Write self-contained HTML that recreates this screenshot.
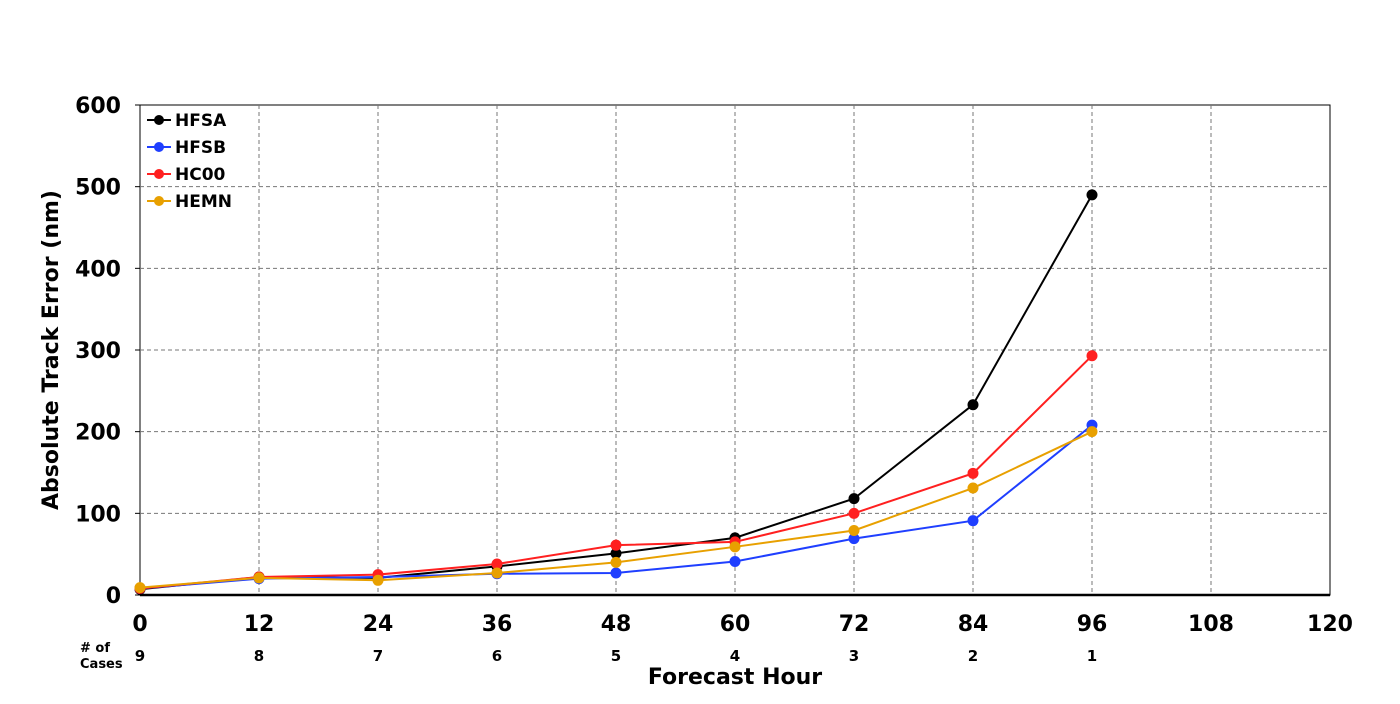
<!DOCTYPE html>
<html><head><meta charset="utf-8"><style>
body{margin:0;background:#fff;font-family:"DejaVu Sans","Liberation Sans",sans-serif;}
svg text{font-family:"DejaVu Sans","Liberation Sans",sans-serif;font-weight:bold;}
</style></head><body>
<svg id="chart" width="1400" height="700">
<g id="grid"></g><g id="series"></g><g id="axes"></g><g id="legend"></g>
</svg>
<script>
const hours=[0,12,24,36,48,60,72,84,96];
const xTicks=[0,12,24,36,48,60,72,84,96,108,120];
const yTicks=[0,100,200,300,400,500,600];
const cases=[9,8,7,6,5,4,3,2,1];
const names=["HFSA","HFSB","HC00","HEMN"];
const colors=["#000000","#1f3fff","#ff2020","#e8a000"];
const hfsa=[7,22,21,35,51,70,118,233,490];
const hfsb=[8,20,22,26,27,41,69,91,208];
const hc00=[8,22,25,38,61,65,100,149,293];
const hemn=[9,21,18,27,40,59,79,131,200];
const seriesVals=[hfsa,hfsb,hc00,hemn];
const X0=140,X1=1330,Y0=595,Y1=105;
const sx=h=>X0+(h/120)*(X1-X0);
const sy=v=>Y0-(v/600)*(Y0-Y1);
const NS="http://www.w3.org/2000/svg";
function mk(t,a,p){const e=document.createElementNS(NS,t);for(const k in a)e.setAttribute(k,a[k]);p.appendChild(e);return e;}
const grid=document.getElementById('grid'),axes=document.getElementById('axes'),ser=document.getElementById('series'),leg=document.getElementById('legend');
mk('rect',{x:X0,y:Y1,width:X1-X0,height:Y0-Y1,fill:'#fff',stroke:'#000','stroke-width':1},grid);
xTicks.forEach((t,i)=>{
 if(t>0&&t<120){const l=mk('line',{x1:sx(t),x2:sx(t),y1:Y1,y2:Y0,stroke:'#777','stroke-dasharray':'4,3'},grid);
 
 }
 const tx=mk('text',{x:sx(t),y:631,'font-size':22,'text-anchor':'middle'},axes);tx.textContent=t;
 
 
});
yTicks.forEach(t=>{
 if(t>0&&t<600){const l=mk('line',{x1:X0,x2:X1,y1:sy(t),y2:sy(t),stroke:'#777','stroke-dasharray':'4,3'},grid);
 
 }
 mk('line',{x1:X0-5,x2:X0,y1:sy(t),y2:sy(t),stroke:'#000'},axes);
 const tx=mk('text',{x:121,y:sy(t)+8,'font-size':22,'text-anchor':'end'},axes);tx.textContent=t;
 
 
});
mk('line',{x1:X0,x2:X1,y1:Y0,y2:Y0,stroke:'#000','stroke-width':2.5},axes);
cases.forEach((c,i)=>{const tx=mk('text',{x:sx(hours[i]),y:661,'font-size':15,'text-anchor':'middle'},axes);tx.textContent=c;
 
 });
let t=mk('text',{x:80,y:652,'font-size':13},axes);t.textContent='# of';
t=mk('text',{x:80,y:668,'font-size':13},axes);t.textContent='Cases';
t=mk('text',{x:735,y:684,'font-size':22,'text-anchor':'middle'},axes);t.textContent='Forecast Hour';


t=mk('text',{x:58,y:350,'font-size':22,'text-anchor':'middle',transform:'rotate(-90 58 350)'},axes);t.textContent='Absolute Track Error (nm)';


seriesVals.forEach((vals,s)=>{
 const pts=vals.map((v,i)=>sx(hours[i])+','+sy(v)).join(' ');
 const pl=mk('polyline',{points:pts,fill:'none',stroke:colors[s],'stroke-width':2},ser);
 
 
 vals.forEach((v,i)=>{const c=mk('circle',{cx:sx(hours[i]),cy:sy(v),r:5.5,fill:colors[s]},ser);
  
  });
 const y=120+s*27;
 mk('line',{x1:147,x2:171,y1:y,y2:y,stroke:colors[s],'stroke-width':2},leg);
 mk('circle',{cx:159,cy:y,r:5,fill:colors[s]},leg);
 const lt=mk('text',{x:175,y:y+6,'font-size':17},leg);lt.textContent=names[s];
 
 
});
</script>
</body></html>
